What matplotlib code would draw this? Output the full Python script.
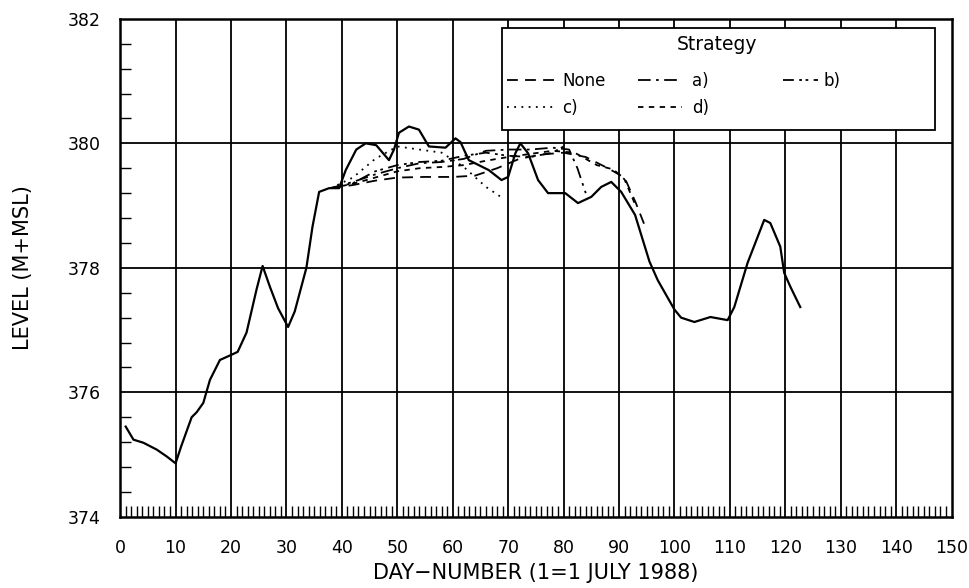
import numpy as np
import matplotlib
matplotlib.use("Agg")
import matplotlib.pyplot as plt
from matplotlib.ticker import MultipleLocator
from matplotlib.patches import Rectangle

plt.rcParams['font.family'] = ['DejaVu Sans']

# observed level (solid line)
obs_day = [1, 2.4, 4.2, 6.6, 8.4, 10, 11, 12.9, 13.8, 15, 16.2, 18, 20, 21.2, 22.8,
           24.6, 25.7, 27, 28.5, 30.3, 31.5, 33.6, 34.7, 35.9, 37.7, 39.5, 40.7, 42.6,
           44.3, 46.2, 48.5, 49.4, 50.3, 52.1, 53.9, 55.7, 58.7, 60.5, 61.4, 62.9, 64.7,
           66.5, 68.8, 70, 71.3, 72.2, 73.6, 75.4, 77.2, 80.3, 82.6, 85, 86.8, 88.6,
           90.4, 92.9, 95.5, 97, 100, 101.2, 103.6, 106.5, 109.6, 110.8, 113.2, 116.2,
           117.3, 119.1, 119.8, 120.9, 122.7]
obs_level = [375.45, 375.24, 375.19, 375.08, 374.97, 374.86, 375.13, 375.6, 375.68,
             375.83, 376.2, 376.52, 376.6, 376.65, 376.96, 377.65, 378.03, 377.7,
             377.35, 377.05, 377.3, 378.0, 378.66, 379.22, 379.28, 379.28, 379.57,
             379.9, 380.0, 379.97, 379.73, 379.9, 380.17, 380.27, 380.22, 379.95,
             379.93, 380.08, 380.02, 379.73, 379.65, 379.57, 379.41, 379.46, 379.84,
             380.0, 379.84, 379.41, 379.2, 379.2, 379.04, 379.14, 379.3, 379.38,
             379.22, 378.85, 378.1, 377.8, 377.33, 377.2, 377.13, 377.21, 377.16,
             377.37, 378.08, 378.77, 378.72, 378.34, 377.92, 377.7, 377.37]

# strategies
none_day = [38, 42, 46, 50, 55, 60, 64, 68, 72, 76, 80, 84, 88, 91, 93, 95]
none_level = [379.28, 379.33, 379.4, 379.45, 379.46, 379.46, 379.48, 379.6, 379.75,
              379.82, 379.85, 379.78, 379.6, 379.45, 379.05, 378.6]

a_day = [38, 42, 46, 50, 54, 58, 62, 66, 70, 74, 78, 81, 82.5, 84]
a_level = [379.28, 379.38, 379.5, 379.6, 379.68, 379.7, 379.75, 379.88, 379.9,
           379.9, 379.93, 379.9, 379.6, 379.2]

b_day = [38, 42, 46, 50, 54, 58, 62, 66, 70, 74, 78, 80]
b_level = [379.28, 379.36, 379.55, 379.65, 379.7, 379.72, 379.8, 379.85, 379.8,
           379.78, 379.85, 379.95]

c_day = [38, 42, 46, 50, 54, 58, 62, 66, 69]
c_level = [379.28, 379.45, 379.75, 379.95, 379.9, 379.85, 379.62, 379.3, 379.12]

d_day = [38, 42, 46, 50, 54, 58, 62, 66, 70, 74, 78, 82, 86, 89, 91, 93]
d_level = [379.28, 379.35, 379.45, 379.55, 379.6, 379.62, 379.65, 379.72, 379.78,
           379.83, 379.88, 379.85, 379.65, 379.58, 379.42, 379.0]

fig = plt.figure(figsize=(9.69, 5.88), dpi=100)
ax = fig.add_axes([0.124, 0.121, 0.858, 0.847])

for x in range(10, 150, 10):
    ax.axvline(x, color='black', lw=1.3, zorder=1)
for y in (376, 378, 380):
    ax.axhline(y, color='black', lw=1.3, zorder=1)

ax.plot(obs_day, obs_level, color='black', lw=1.6, zorder=3)

lw = 1.3
h_none, = ax.plot(none_day, none_level, color='black', lw=lw, ls=(0, (6, 4)), label='None')
h_a, = ax.plot(a_day, a_level, color='black', lw=lw, ls=(0, (7, 3, 1.5, 3)), label='a)')
h_b, = ax.plot(b_day, b_level, color='black', lw=lw, ls=(0, (6, 3, 1.5, 2, 1.5, 3)), label='b)')
h_c, = ax.plot(c_day, c_level, color='black', lw=lw, ls=(0, (1, 3)), label='c)')
h_d, = ax.plot(d_day, d_level, color='black', lw=lw, ls=(0, (3, 3)), label='d)')

ax.set_xlim(0, 150)
ax.set_ylim(374, 382)
ax.set_xticks(range(0, 151, 10))
ax.set_yticks(range(374, 383, 2))
ax.xaxis.set_minor_locator(MultipleLocator(1))
ax.yaxis.set_minor_locator(MultipleLocator(0.4))
ax.tick_params(axis='x', which='major', length=0, pad=16, labelsize=12.5)
ax.tick_params(axis='x', which='minor', direction='in', length=8, width=1.0)
ax.tick_params(axis='y', which='major', length=0, pad=14, labelsize=12.5)
ax.tick_params(axis='y', which='minor', direction='in', length=8, width=1.0)
for s in ax.spines.values():
    s.set_linewidth(1.8)

ax.set_xlabel('DAY\u2212NUMBER (1=1 JULY 1988)', fontsize=15, labelpad=4)
ax.set_ylabel('LEVEL (M+MSL)', fontsize=15, labelpad=25)

# legend box with three separate columns
ax.add_patch(Rectangle((0.4595, 0.777), 0.5208, 0.2048, transform=ax.transAxes,
                       facecolor='white', edgecolor='black', lw=1.3, zorder=4))
ax.text(0.718, 0.948, 'Strategy', transform=ax.transAxes, ha='center', va='center',
        fontsize=13.5, zorder=6)

common = dict(loc='upper left', frameon=False, fontsize=12, borderpad=0,
              borderaxespad=0, labelspacing=0.55)
leg1 = ax.legend(handles=[h_none, h_c], bbox_to_anchor=(0.4655, 0.894),
                 handlelength=2.9, handletextpad=0.42, **common)
leg1.set_zorder(5)
ax.add_artist(leg1)
leg2 = ax.legend(handles=[h_a, h_d], bbox_to_anchor=(0.623, 0.894),
                 handlelength=2.65, handletextpad=0.6, **common)
leg2.set_zorder(5)
ax.add_artist(leg2)
leg3 = ax.legend(handles=[h_b], bbox_to_anchor=(0.7975, 0.894),
                 handlelength=2.1, handletextpad=0.3, **common)
leg3.set_zorder(5)

fig.savefig('out.png', dpi=100)
